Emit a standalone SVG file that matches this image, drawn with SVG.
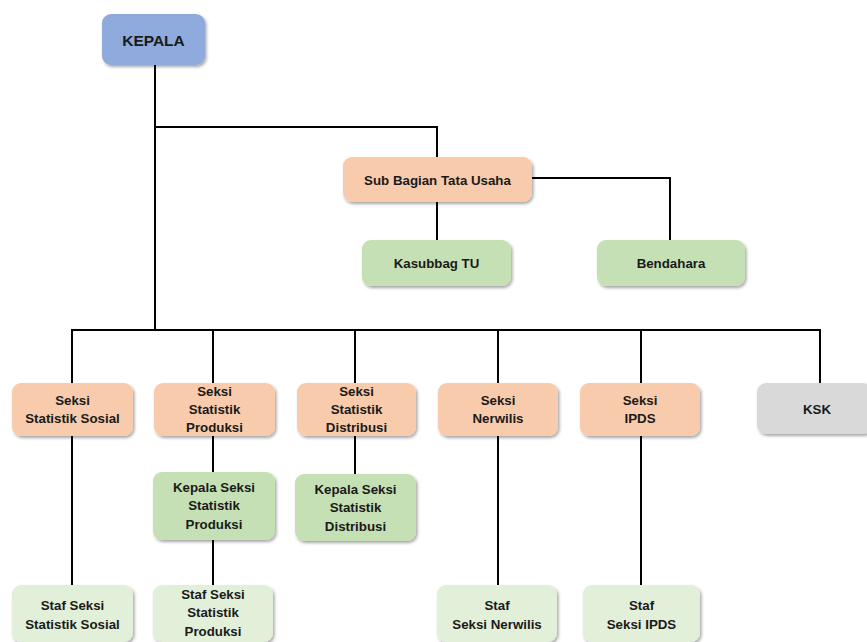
<svg xmlns="http://www.w3.org/2000/svg" width="867" height="642" viewBox="0 0 867 642">
<defs>
<filter id="sh" x="-10%" y="-10%" width="130%" height="140%">
<feDropShadow dx="1.5" dy="2" stdDeviation="1.5" flood-color="#000" flood-opacity="0.35"/>
</filter>
</defs>
<style>
.b{stroke:none;filter:url(#sh)}
.blue{fill:#8faadc}
.peach{fill:#f8cbad}
.green{fill:#c5e0b4}
.lg{fill:#e2efd9}
.gray{fill:#d9d9d9}
text{font-family:"Liberation Sans",Arial,sans-serif;font-weight:bold;font-size:13.3px;fill:#1a1a1a;text-anchor:middle}
text.big{font-size:15.5px}
.c line{stroke:#000;stroke-width:2}
</style>
<rect width="867" height="642" fill="#fff"/>
<g class="c" id="connectors">
<line x1="155" y1="65" x2="155" y2="331"/>
<line x1="155" y1="127" x2="438" y2="127"/>
<line x1="437" y1="126" x2="437" y2="157"/>
<line x1="532" y1="178" x2="671" y2="178"/>
<line x1="670" y1="177" x2="670" y2="240"/>
<line x1="437" y1="202" x2="437" y2="240"/>
<line x1="71" y1="330" x2="821" y2="330"/>
<line x1="72" y1="329" x2="72" y2="383"/>
<line x1="213" y1="329" x2="213" y2="383"/>
<line x1="355" y1="329" x2="355" y2="383"/>
<line x1="498" y1="329" x2="498" y2="383"/>
<line x1="641" y1="329" x2="641" y2="383"/>
<line x1="820" y1="329" x2="820" y2="383"/>
<line x1="72" y1="436" x2="72" y2="585"/>
<line x1="213" y1="436" x2="213" y2="472"/>
<line x1="213" y1="540" x2="213" y2="585"/>
<line x1="355" y1="436" x2="355" y2="474"/>
<line x1="498" y1="436" x2="498" y2="585"/>
<line x1="641" y1="436" x2="641" y2="585"/>
</g>
<g id="kepala"><rect class="b blue" x="102" y="14" width="103" height="51" rx="9"/><text class="big" x="153.5" y="45.5">KEPALA</text></g>
<g id="subbag"><rect class="b peach" x="343" y="157" width="189" height="45" rx="9"/><text x="437.5" y="184.5">Sub Bagian Tata Usaha</text></g>
<g id="kasubbag"><rect class="b green" x="362" y="240" width="149" height="46" rx="9"/><text x="436.5" y="268">Kasubbag TU</text></g>
<g id="bendahara"><rect class="b green" x="597" y="240" width="148" height="46" rx="9"/><text x="671" y="268">Bendahara</text></g>
<g id="sosial"><rect class="b peach" x="12" y="383" width="121" height="53" rx="9"/><text x="72.5" y="405">Seksi</text><text x="72.5" y="423">Statistik Sosial</text></g>
<g id="produksi"><rect class="b peach" x="154" y="383" width="121" height="53" rx="9"/><text x="214.5" y="396">Seksi</text><text x="214.5" y="414">Statistik</text><text x="214.5" y="432">Produksi</text></g>
<g id="distribusi"><rect class="b peach" x="297" y="383" width="119" height="53" rx="9"/><text x="356.5" y="396">Seksi</text><text x="356.5" y="414">Statistik</text><text x="356.5" y="432">Distribusi</text></g>
<g id="nerwilis"><rect class="b peach" x="438" y="383" width="120" height="53" rx="9"/><text x="498" y="405">Seksi</text><text x="498" y="423">Nerwilis</text></g>
<g id="ipds"><rect class="b peach" x="580" y="383" width="120" height="53" rx="9"/><text x="640" y="405">Seksi</text><text x="640" y="423">IPDS</text></g>
<g id="ksk"><rect class="b gray" x="757" y="383" width="115" height="51" rx="9"/><text x="817" y="414">KSK</text></g>
<g id="kasi-produksi"><rect class="b green" x="153" y="472" width="122" height="68" rx="9"/><text x="214" y="492">Kepala Seksi</text><text x="214" y="510">Statistik</text><text x="214" y="529">Produksi</text></g>
<g id="kasi-distribusi"><rect class="b green" x="295" y="474" width="121" height="67" rx="9"/><text x="355.5" y="494">Kepala Seksi</text><text x="355.5" y="512">Statistik</text><text x="355.5" y="531">Distribusi</text></g>
<g id="staf-sosial"><rect class="b lg" x="12" y="585" width="121" height="57" rx="9"/><text x="72.5" y="610">Staf Seksi</text><text x="72.5" y="629">Statistik Sosial</text></g>
<g id="staf-produksi"><rect class="b lg" x="153" y="585" width="120" height="57" rx="9"/><text x="213" y="599">Staf Seksi</text><text x="213" y="617">Statistik</text><text x="213" y="636">Produksi</text></g>
<g id="staf-nerwilis"><rect class="b lg" x="437" y="585" width="120" height="57" rx="9"/><text x="497" y="610">Staf</text><text x="497" y="629">Seksi Nerwilis</text></g>
<g id="staf-ipds"><rect class="b lg" x="583" y="585" width="117" height="57" rx="9"/><text x="641.5" y="610">Staf</text><text x="641.5" y="629">Seksi IPDS</text></g>
</svg>
